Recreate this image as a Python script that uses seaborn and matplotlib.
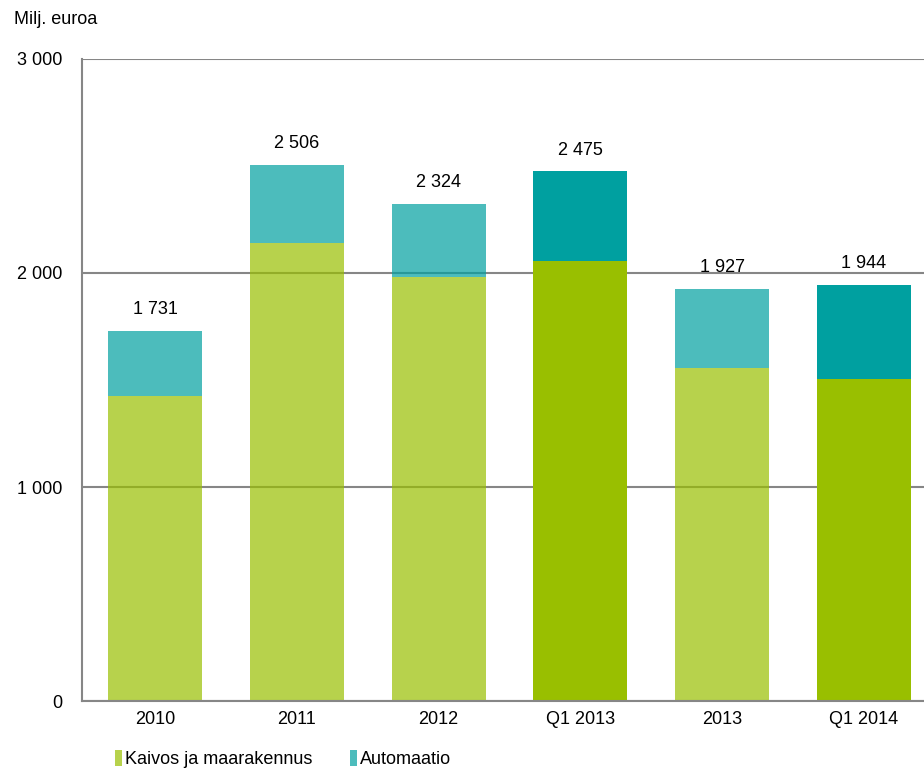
import matplotlib
matplotlib.use("Agg")
import matplotlib.pyplot as plt
import seaborn as sns
import numpy as np
from matplotlib.patches import Patch

categories = ["2010", "2011", "2012", "Q1 2013", "2013", "Q1 2014"]
kaivos = [1425, 2140, 1983, 2056, 1556, 1506]
automaatio = [306, 366, 341, 419, 371, 438]
totals = [1731, 2506, 2324, 2475, 1927, 1944]
highlight = [False, False, False, True, False, True]
series_names = ["Kaivos ja maarakennus", "Automaatio"]
yticks = [0, 1000, 2000, 3000]

GREEN = "#99BF00"
TEAL = "#00A0A0"
LIGHT_ALPHA = 0.7

sns.set_theme(style="white")
plt.rcParams["font.family"] = ["Liberation Sans", "DejaVu Sans"]
plt.rcParams["text.color"] = "black"
FS = 13

fig = plt.figure(figsize=(9.24, 7.69), dpi=100)
ax = fig.add_axes([82 / 924, 68 / 769, 1 - 82 / 924, (701 - 59) / 769])

sns.barplot(x=categories, y=kaivos, color=GREEN, width=0.663, saturation=1,
            ax=ax, zorder=2, linewidth=0)
n = len(categories)
sns.barplot(x=categories, y=automaatio, bottom=kaivos, color=TEAL, width=0.663,
            saturation=1, ax=ax, zorder=2, linewidth=0)

for i, p in enumerate(ax.patches):
    idx = i % n
    if not highlight[idx]:
        p.set_alpha(LIGHT_ALPHA)

ax.set_ylim(0, 3000)
ax.set_xlim(-0.515, 5.423)
ax.set_yticks(yticks)
ax.set_yticklabels([f"{v:,}".replace(",", " ") for v in yticks], fontsize=FS)
ax.tick_params(axis="y", length=0, pad=14, labelcolor="black")
ax.tick_params(axis="x", length=0, pad=7, labelsize=FS, labelcolor="black")
ax.set_xlabel("")
ax.set_ylabel("")
ax.yaxis.grid(True, color="#868686", linewidth=1.5, zorder=1)
ax.set_axisbelow(True)
for s in ["top", "right"]:
    ax.spines[s].set_visible(False)
for s in ["left", "bottom"]:
    ax.spines[s].set_color("#868686")
    ax.spines[s].set_linewidth(1.5)

for i, t in enumerate(totals):
    ax.annotate(f"{t:,}".replace(",", " "), xy=(i, t), xytext=(0, 9),
                textcoords="offset points", ha="center", va="bottom",
                fontsize=FS, color="black")

fig.text(14 / 924, 1 - 20 / 769, "Milj. euroa", fontsize=FS, ha="left",
         va="center", color="black")

for name, col, xpos in zip(series_names, [GREEN, TEAL], [115, 350]):
    leg = fig.legend(handles=[Patch(facecolor=col, alpha=LIGHT_ALPHA, linewidth=0)],
                     labels=[name], loc="center left",
                     bbox_to_anchor=(xpos / 924, 1 - 759 / 769), frameon=False,
                     fontsize=FS, handlelength=0.4, handleheight=1.0,
                     handletextpad=0.15, borderaxespad=0, borderpad=0)
    for txt in leg.get_texts():
        txt.set_color("black")

fig.savefig("out.png", dpi=100)
